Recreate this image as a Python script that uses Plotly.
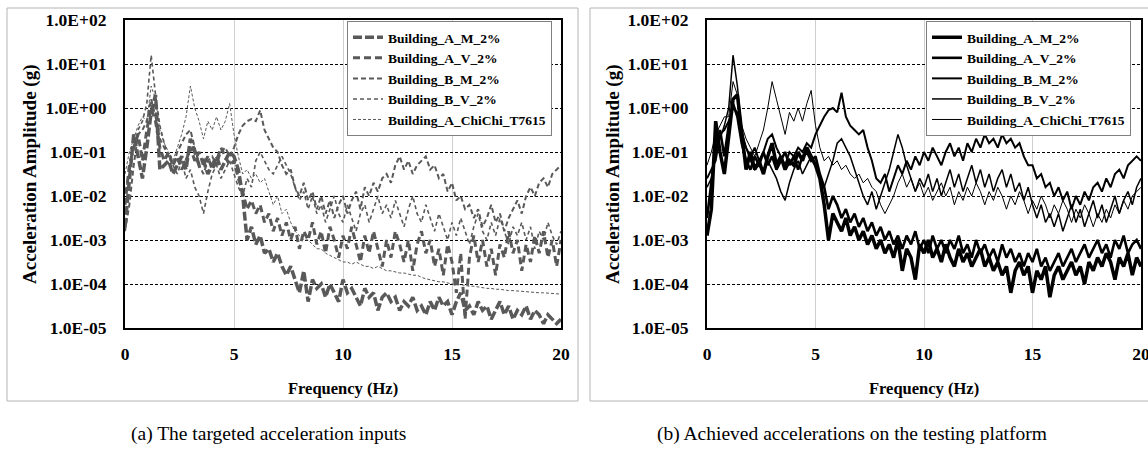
import plotly.graph_objects as go

# ---------------- data (log10 of acceleration amplitude, g) ----------------
freq = [round(0.2 * i, 1) for i in range(101)]  # 0.0 ... 20.0 Hz

series_names = ["Building_A_M_2%", "Building_A_V_2%", "Building_B_M_2%",
                "Building_B_V_2%", "Building_A_ChiChi_T7615"]

# (a) targeted acceleration inputs
tgt_A_M = [-2.7, -1.6, -0.6, -1.1, -1.6, -0.9, -0.1, 0.3, -1.4, -1.3,
           -1.2, -1.5, -1.3, -1.1, -1.4, -0.7, -1.0, -1.3, -1.2, -1.5,
           -1.3, -1.1, -1.4, -1.2, -1.0, -1.1, -1.4, -2.0, -3.0, -2.7,
           -3.1, -2.9, -3.3, -3.2, -3.5, -3.3, -3.6, -3.8, -3.6, -3.9,
           -4.2, -3.7, -4.4, -3.9, -4.1, -4.0, -4.3, -4.0, -4.2, -4.4,
           -3.9, -4.2, -4.1, -4.3, -4.5, -4.1, -4.3, -4.2, -4.6, -4.3,
           -4.2, -4.4, -4.3, -4.6, -4.4, -4.5, -4.3, -4.6, -4.5, -4.7,
           -4.4, -4.6, -4.3, -4.5, -4.4, -4.7, -4.4, -4.2, -4.6, -4.5,
           -4.7, -4.4, -4.6, -4.5, -4.8, -4.6, -4.4, -4.7, -4.5, -4.8,
           -4.6, -4.7, -4.5, -4.8, -4.6, -4.7, -4.9, -4.7, -4.8, -4.9, -4.8]
tgt_A_V = [-2.2, -1.3, -0.9, -0.6, -1.2, -0.5, 0.0, -0.3, -0.9, -1.2,
           -1.0, -1.3, -1.1, -1.4, -1.2, -0.9, -1.2, -1.0, -1.3, -1.1,
           -1.4, -1.2, -0.9, -1.1, -1.3, -1.2, -1.6, -1.9, -2.3, -2.1,
           -2.4, -2.2, -2.6, -2.4, -2.8, -2.5, -2.9, -2.6, -3.0, -2.7,
           -3.2, -2.8, -3.0, -2.6, -3.1, -2.8, -3.3, -2.7, -3.0, -3.4,
           -2.9, -3.2, -2.7, -3.1, -3.5, -2.9, -3.3, -2.8, -3.2, -3.6,
           -3.0, -3.4, -2.8, -3.1, -3.5, -3.0, -3.7, -3.1, -2.8, -3.3,
           -3.0, -3.6, -3.2, -3.8, -3.1, -3.5, -4.2, -3.3, -4.8, -3.4,
           -2.9, -3.5, -3.0, -3.6, -3.2, -3.8, -3.1, -3.4, -2.8, -3.3,
           -3.0, -3.7, -3.1, -3.5, -2.9, -3.3, -2.8, -3.4, -3.0, -3.6, -3.0]
tgt_B_M = [-2.8, -2.2, -1.3, -0.6, -0.5, -0.3, 0.2, -0.2, -0.7, -0.9,
           -1.1, -1.3, -1.0, -0.8, -0.6, -0.5, -0.9, -1.3, -1.5, -1.2,
           -1.1, -1.3, -1.0, -0.9, -1.1, -0.9, -0.6, -0.4, -0.3, -0.25,
           -0.3, -0.05, -0.5, -0.7, -0.9, -1.0, -1.3, -1.5, -1.4, -1.8,
           -2.0, -1.7, -2.1, -1.9, -2.3, -2.0, -2.4, -2.1, -2.5, -2.2,
           -2.0, -2.4, -2.1, -1.9, -2.3, -1.8, -2.0, -1.7, -1.9, -1.6,
           -1.5, -1.7, -1.3, -1.1, -1.4, -1.2, -1.5, -1.3, -1.2, -1.1,
           -1.4, -1.3, -1.6, -1.5, -1.9, -1.7, -2.1, -2.0, -2.3, -2.2,
           -2.5, -2.3, -2.7, -2.5, -2.2, -2.6, -2.4, -2.8, -2.5, -2.3,
           -2.1, -2.4, -2.0, -1.8, -2.0, -1.7, -1.6, -1.8, -1.5, -1.4, -1.3]
tgt_B_V = [-1.9, -1.5, -0.9, -0.5, -0.3, 0.1, 1.2, 0.3, -0.4, -0.8,
           -1.1, -1.3, -1.5, -1.2, -1.6, -1.4, -1.8, -2.0, -2.4, -1.9,
           -1.5, -1.3, -1.6, -1.4, -1.2, -1.5, -1.8, -2.0, -1.6, -1.8,
           -1.2, -1.0, -1.2, -1.4, -1.5, -1.3, -1.1, -1.3, -1.5, -1.8,
           -2.1, -1.9, -2.3, -2.0, -2.4, -2.2, -2.6, -2.3, -2.0, -2.4,
           -2.6, -2.2, -2.5, -2.8, -2.4, -2.2, -2.6, -2.3, -2.0, -2.4,
           -2.2, -2.5, -2.1, -2.4, -2.7, -2.3, -2.0, -2.4, -2.6, -2.2,
           -2.5, -2.8, -2.4, -2.7, -3.0, -2.6, -2.9, -2.5, -2.8, -3.1,
           -2.7, -2.4, -2.8, -3.0, -2.6, -2.9, -2.5, -2.8, -3.1, -2.7,
           -2.9, -2.6, -3.0, -2.7, -3.2, -2.8, -3.0, -2.6, -2.9, -3.1, -2.8]
tgt_ChiChi = [-1.5, -1.0, -0.7, -0.4, -0.2, -0.3, 0.5, 0.2, -0.5, -0.8,
              -1.0, -1.2, -0.9, -0.6, -0.2, 0.5, 0.0, -0.3, -0.7, -0.3,
              -0.5, -0.2, -0.5, -0.3, 0.1, -0.6, -1.1, -1.5, -1.4, -1.6,
              -1.5, -1.7, -1.6, -1.9, -2.2, -2.0, -2.4, -2.3, -2.6, -2.8,
              -2.9, -3.0, -3.0, -3.1, -3.2, -3.2, -3.3, -3.35, -3.4, -3.45,
              -3.5, -3.5, -3.55, -3.5, -3.55, -3.6, -3.6, -3.65, -3.6, -3.65,
              -3.7, -3.7, -3.72, -3.75, -3.75, -3.78, -3.8, -3.8, -3.85, -3.88,
              -3.9, -3.92, -3.95, -3.95, -3.98, -4.0, -4.0, -4.02, -4.03, -4.05,
              -4.05, -4.07, -4.08, -4.1, -4.1, -4.12, -4.12, -4.14, -4.15, -4.15,
              -4.16, -4.17, -4.18, -4.18, -4.19, -4.2, -4.2, -4.21, -4.22, -4.22, -4.23]

# (b) achieved accelerations on the testing platform
ach_A_M = [-2.9, -2.3, -0.3, -1.0, -1.5, -0.7, 0.2, 0.3, -0.6, -1.4,
           -1.0, -1.4, -1.2, -1.5, -1.1, -0.8, -1.3, -1.1, -1.4, -1.2,
           -1.3, -1.0, -1.2, -0.9, -1.1, -1.3, -1.6, -2.2, -3.0, -2.4,
           -2.6, -2.8, -2.5, -2.9, -2.7, -3.0, -2.8, -3.1, -2.9, -3.2,
           -3.0, -3.3, -3.1, -3.4, -3.0, -3.7, -3.2, -3.4, -3.9, -3.1,
           -3.3, -3.0, -3.4, -3.2, -3.5, -3.1, -3.4, -3.6, -3.2, -3.5,
           -3.3, -3.6, -3.4, -3.2, -3.6, -3.4, -3.7, -3.5, -3.8, -3.6,
           -4.2, -3.7, -3.5, -3.8, -3.6, -4.2, -3.7, -3.9, -3.6, -4.3,
           -3.8, -3.6, -3.9, -3.7, -3.5, -3.8, -3.6, -4.0, -3.5, -3.7,
           -3.4, -3.6, -3.3, -3.5, -3.9, -3.4, -3.6, -3.3, -3.8, -3.4, -3.6]
ach_A_V = [-2.5, -1.7, -0.9, -0.5, -1.1, -0.4, 0.1, -0.2, -0.8, -1.2,
           -1.4, -1.1, -1.3, -1.0, -1.3, -1.1, -1.4, -1.2, -1.0, -1.3,
           -1.1, -1.4, -1.1, -1.0, -1.2, -1.1, -1.5, -1.8, -2.3, -2.0,
           -2.2, -2.5, -2.3, -2.6, -2.4, -2.7, -2.5, -2.8, -2.6, -2.9,
           -2.7, -3.0, -2.8, -3.1, -2.9, -3.2, -2.9, -3.1, -2.8, -3.2,
           -3.0, -3.3, -2.9, -3.2, -3.0, -3.3, -3.0, -3.2, -2.9, -3.3,
           -3.1, -3.4, -3.0, -3.3, -3.1, -3.4, -3.2, -3.5, -3.1, -3.4,
           -3.2, -3.5, -3.3, -3.6, -3.3, -3.5, -3.2, -3.6, -3.4, -3.7,
           -3.5, -3.3, -3.6, -3.4, -3.2, -3.5, -3.3, -3.1, -3.4, -3.2,
           -3.0, -3.3, -3.1, -3.4, -3.0, -3.2, -2.9, -3.3, -3.1, -3.0, -3.2]
ach_B_M = [-1.6, -1.4, -1.2, -0.6, -0.5, -0.3, 0.0, -0.1, -0.6, -0.9,
           -1.1, -0.9, -1.2, -1.0, -0.7, -0.6, -0.9, -1.1, -1.3, -1.0,
           -1.1, -0.9, -1.0, -0.8, -0.9, -0.6, -0.4, -0.2, -0.05, 0.0,
           -0.1, 0.35, -0.2, -0.4, -0.5, -0.6, -0.5, -0.9, -1.2, -1.6,
           -1.7, -1.5, -1.9, -1.6, -1.3, -1.5, -1.2, -1.4, -1.1, -1.3,
           -1.0, -1.2, -0.9, -1.1, -1.3, -1.0, -0.8, -1.1, -0.9, -1.2,
           -0.8, -1.0, -0.7, -0.9, -0.6, -0.8, -0.7, -0.9, -0.6, -0.8,
           -0.7, -0.9, -0.8, -1.1, -1.3, -1.3, -1.6, -1.5, -1.8, -1.7,
           -2.0, -1.8, -2.1, -1.9, -2.3, -2.0, -2.2, -1.9, -2.1, -1.8,
           -1.7, -1.9, -1.6, -1.8, -1.5, -1.4, -1.6, -1.3, -1.2, -1.1, -1.2]
ach_B_V = [-1.8, -1.6, -1.0, -0.7, -0.4, 0.0, 1.2, 0.5, -0.5, -0.9,
           -1.2, -1.4, -1.3, -1.5, -1.2, -1.4, -1.6, -1.9, -2.1, -1.7,
           -1.4, -1.2, -1.5, -1.3, -1.1, -1.3, -1.6, -1.8, -1.5, -1.2,
           -0.8, -0.7, -0.9, -1.1, -1.4, -1.7, -2.0, -2.2, -1.9, -2.3,
           -2.0, -1.7, -1.4, -1.0, -0.6, -0.9, -1.3, -1.6, -1.9, -1.6,
           -1.8, -1.5, -1.9, -1.6, -2.0, -1.7, -1.4, -1.8, -1.5, -1.9,
           -1.6, -1.3, -1.7, -1.4, -1.8, -1.5, -1.9, -1.6, -1.4, -1.8,
           -1.5, -1.9, -1.7, -2.1, -1.8, -2.2, -2.5, -2.2, -2.6, -2.4,
           -2.7, -2.4, -2.8, -2.5, -2.2, -2.6, -2.3, -2.7, -2.4, -2.1,
           -2.5, -2.2, -2.6, -2.3, -2.0, -2.4, -2.1, -1.9, -2.2, -1.8, -1.6]
ach_ChiChi = [-1.3, -1.0, -0.6, -0.4, -0.2, -0.2, 0.6, 0.3, -0.4, -0.7,
              -0.9, -1.1, -0.8, -0.5, 0.0, 0.6, 0.2, -0.2, -0.6, -0.1,
              -0.3, 0.0, -0.3, 0.1, 0.4, -0.4, -0.9, -1.2, -1.1, -1.3,
              -1.2, -1.4, -1.3, -1.5, -1.6, -1.5, -1.7, -1.6, -1.8, -1.9,
              -2.2, -2.4, -2.2, -2.0, -1.7, -1.5, -1.8, -1.6, -1.9, -1.7,
              -2.0, -1.8, -2.1, -1.9, -1.7, -2.0, -1.8, -2.2, -1.9, -2.1,
              -1.8, -2.0, -1.7, -1.9, -2.2, -1.9, -2.1, -1.8, -2.0, -2.3,
              -2.0, -2.2, -1.9, -2.1, -2.4, -2.1, -2.3, -2.0, -2.2, -2.5,
              -2.2, -2.4, -2.1, -2.3, -2.6, -2.3, -2.5, -2.2, -2.4, -2.7,
              -2.4, -2.6, -2.3, -2.5, -2.2, -2.4, -2.1, -2.3, -2.0, -1.9, -1.8]

y_tick_vals = [1e-5, 1e-4, 1e-3, 1e-2, 1e-1, 1e0, 1e1, 1e2]
y_tick_text = ["1.0E-05", "1.0E-04", "1.0E-03", "1.0E-02",
               "1.0E-01", "1.0E+00", "1.0E+01", "1.0E+02"]
x_tick_vals = [0, 5, 10, 15, 20]
x_tick_text = ["0", "5", "10", "15", "20"]

captions = ["(a) The targeted acceleration inputs",
            "(b) Achieved accelerations on the testing platform"]

# ---------------- styles ----------------
FONT = "'Liberation Serif', 'Times New Roman', serif"
GRAY = "#595959"
style_a = [dict(width=3.5, dash="9px,3px"), dict(width=3.0, dash="7px,4px"),
           dict(width=2.0, dash="5px,3px"), dict(width=1.6, dash="4px,3px"),
           dict(width=1.0, dash="3px,2px")]
style_b = [dict(width=3.5), dict(width=2.6), dict(width=2.0),
           dict(width=1.5), dict(width=1.0)]

W, H = 1148, 455


def px_x(x):
    return x / W


def px_y(y):
    return 1 - y / H


fig = go.Figure()

tgt = [tgt_A_M, tgt_A_V, tgt_B_M, tgt_B_V, tgt_ChiChi]
ach = [ach_A_M, ach_A_V, ach_B_M, ach_B_V, ach_ChiChi]

for name, logs, st in zip(series_names, tgt, style_a):
    fig.add_trace(go.Scatter(x=freq, y=[10 ** v for v in logs], mode="lines",
                             name="<b>" + name + "</b>",
                             line=dict(color=GRAY, **st),
                             xaxis="x", yaxis="y", legend="legend"))
for name, logs, st in zip(series_names, ach, style_b):
    fig.add_trace(go.Scatter(x=freq, y=[10 ** v for v in logs], mode="lines",
                             name="<b>" + name + "</b>",
                             line=dict(color="black", **st),
                             xaxis="x2", yaxis="y2", legend="legend2"))

plot_top, plot_bot = 20, 328
dom_y = [px_y(plot_bot), px_y(plot_top)]
dom_xa = [px_x(125), px_x(561)]
dom_xb = [px_x(707), px_x(1141)]

xaxis_common = dict(range=[0, 20], tickmode="array", tickvals=x_tick_vals,
                    ticktext=["<b>" + t + "</b>" for t in x_tick_text],
                    showgrid=True, gridcolor="#cfcfcf", gridwidth=1,
                    showline=True, linecolor="black", linewidth=2, mirror=True,
                    ticks="", zeroline=False, ticklabelstandoff=9,
                    automargin=False, ticklabeloverflow="allow",
                    tickfont=dict(family=FONT, size=17.5, color="black"))
yaxis_common = dict(type="log", range=[-5, 2], tickmode="array",
                    tickvals=y_tick_vals,
                    ticktext=["<b>" + t + "</b>" for t in y_tick_text],
                    showgrid=True, gridcolor="black", gridwidth=1,
                    griddash="3px,2px",
                    showline=True, linecolor="black", linewidth=2, mirror=True,
                    ticks="", zeroline=False, ticklabelstandoff=13,
                    automargin=False,
                    tickfont=dict(family=FONT, size=17.5, color="black"))

legend_common = dict(bgcolor="white", bordercolor="#7f7f7f", borderwidth=1,
                     font=dict(family=FONT, size=13.5, color="black"),
                     xanchor="left", yanchor="top", tracegroupgap=0,
                     itemwidth=30, xref="paper", yref="paper")

fig.update_layout(
    width=W, height=H, margin=dict(l=0, r=0, t=0, b=0, pad=0, autoexpand=False),
    paper_bgcolor="white", plot_bgcolor="white",
    font=dict(family=FONT, color="black"),
    xaxis=dict(domain=dom_xa, anchor="y", **xaxis_common),
    yaxis=dict(domain=dom_y, anchor="x", **yaxis_common),
    xaxis2=dict(domain=dom_xb, anchor="y2", **xaxis_common),
    yaxis2=dict(domain=dom_y, anchor="x2", **yaxis_common),
    legend=dict(x=px_x(347), y=px_y(21), **legend_common),
    legend2=dict(x=px_x(926), y=px_y(21), **legend_common),
    showlegend=True,
)

shapes = []
for x0, x1 in [(7, 578), (590, 1161)]:
    shapes.append(dict(type="rect", xref="paper", yref="paper",
                       x0=px_x(x0), x1=px_x(x1), y0=px_y(401), y1=px_y(8),
                       line=dict(color="#b4b4b4", width=1), layer="below"))
fig.update_layout(shapes=shapes)

ann = []
for xc in [30, 613]:
    ann.append(dict(text="<b>Acceleration Amplitude (g)</b>", textangle=-90,
                    x=px_x(xc), y=px_y((plot_top + plot_bot) / 2),
                    xref="paper", yref="paper", showarrow=False,
                    xanchor="center", yanchor="middle",
                    font=dict(family=FONT, size=19, color="black")))
for xc in [(125 + 561) / 2, (707 + 1141) / 2]:
    ann.append(dict(text="<b>Frequency (Hz)</b>", x=px_x(xc), y=px_y(388),
                    xref="paper", yref="paper", showarrow=False,
                    xanchor="center", yanchor="middle",
                    font=dict(family=FONT, size=16.5, color="black")))
for xc, cap in zip([268, 852], captions):
    ann.append(dict(text=cap, x=px_x(xc), y=px_y(434),
                    xref="paper", yref="paper", showarrow=False,
                    xanchor="center", yanchor="middle",
                    font=dict(family=FONT, size=19.5, color="black")))
fig.update_layout(annotations=ann)

fig.write_html("out.html")
